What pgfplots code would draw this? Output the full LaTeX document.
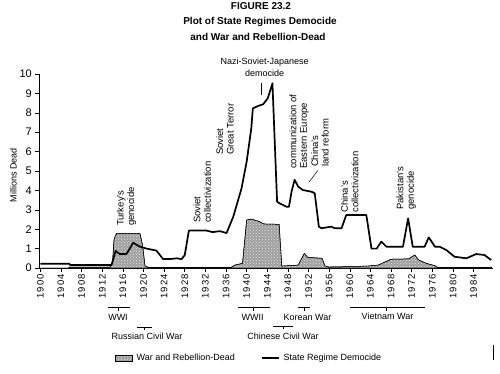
\documentclass[border=0pt]{standalone}
\usepackage{pgfplots}
\pgfplotsset{compat=1.18}
\usetikzlibrary{patterns}
\usepackage{fontspec}
\setmainfont{Liberation Sans}
\newfontfamily\tickfont[LetterSpace=12]{Liberation Sans}
\begin{document}
\begin{tikzpicture}
\useasboundingbox (0,0) rectangle (500pt,373pt);
\begin{axis}[
  at={(39.3pt,105pt)}, anchor=south west,
  scale only axis, width=453.4pt, height=194pt,
  xmin=1899.8, xmax=1987.7, ymin=0, ymax=10,
  axis x line=bottom, axis y line=left,
  axis line style={-, line width=0.8pt},
  clip=false,
  xtick={1900,1904,...,1984}, minor x tick num=3,
  ytick={0,1,...,10},
  tick align=outside, major tick length=4pt, minor tick length=4pt,
  tick style={black, line width=0.6pt},
  /pgf/number format/assume math mode=true,
  /pgf/number format/set thousands separator={},
  x tick label style={font=\tickfont\fontsize{9.5}{10}\selectfont, rotate=90, anchor=east, inner sep=2pt},
  y tick label style={font=\fontsize{11}{12}\selectfont},
  legend columns=2,
  legend style={at={(0.465,-0.464)}, anchor=center, draw=none, fill=none,
    font=\fontsize{9}{10}\selectfont, nodes={inner xsep=4pt},
    /tikz/every even column/.append style={column sep=22pt}},
]
\addplot[draw=black, line width=0.5pt, fill=gray!75,
  postaction={pattern=crosshatch dots, pattern color=white!80!gray}, area legend]
  coordinates {
  (1900,0) (1905.5,0) (1905.6,0.05) (1913.5,0.05) (1914.0,0.3) (1914.3,1.5)
  (1914.8,1.79) (1919.3,1.79) (1919.8,1.2) (1920.3,0.1) (1921,0.03)
  (1937.0,0.03) (1937.7,0.15) (1939.2,0.24) (1940.0,2.47) (1940.9,2.52)
  (1942.5,2.39) (1943.3,2.27) (1946.3,2.25) (1946.8,0.1) (1950.0,0.15)
  (1951.2,0.76) (1951.8,0.55) (1954.6,0.5) (1955.2,0.1) (1956,0.05)
  (1961,0.08) (1963.5,0.1) (1965.5,0.15) (1966.5,0.27) (1968,0.45)
  (1971.4,0.47) (1972.6,0.67) (1973.3,0.42) (1974.8,0.24) (1976.5,0.12)
  (1977,0.03) (1987.5,0.03)
  } \closedcycle;
\addlegendentry{War and Rebellion-Dead}
\addplot[black, line width=1.7pt, line join=round] coordinates {
  (1900,0.22) (1905.6,0.22) (1905.8,0.15) (1913.8,0.15) (1914.6,0.88)
  (1915.4,0.72) (1916.7,0.72) (1918.0,1.3) (1919.3,1.1) (1920.6,1.0)
  (1921.9,0.93) (1922.5,0.9) (1923.8,0.46) (1925.1,0.46) (1926.4,0.5)
  (1927.4,0.46) (1928.0,0.67) (1928.8,1.93) (1932.2,1.93) (1933.4,1.85)
  (1934.8,1.9) (1936.1,1.8) (1937.4,2.64) (1939.0,4.1) (1940.0,5.48)
  (1940.9,7.2) (1941.2,8.23) (1942.2,8.35) (1943.2,8.44) (1944.1,8.75)
  (1945.0,9.52) (1945.9,3.42) (1946.4,3.33) (1947.7,3.16) (1948.2,3.16)
  (1948.7,3.93) (1949.3,4.55) (1950.0,4.19) (1950.9,4.02) (1952.6,3.93)
  (1953.2,3.85) (1954.0,2.13) (1954.5,2.05) (1956.4,2.13) (1957.1,2.05)
  (1958.4,2.05) (1959.3,2.73) (1963.2,2.73) (1964.2,1.0) (1965.2,1.0)
  (1966.1,1.36) (1967.1,1.1) (1970.3,1.1) (1971.3,2.56) (1972.2,1.1)
  (1974.5,1.1) (1975.3,1.58) (1976.5,1.1) (1977.4,1.1) (1978.7,0.93)
  (1980.3,0.58) (1982.6,0.5) (1984.5,0.72) (1986.1,0.67) (1987.4,0.41)
};
\addlegendentry{State Regime Democide}
% annotations
\begin{scope}[every node/.style={font=\fontsize{9.5}{10.5}\selectfont, inner sep=0pt}]
\node[rotate=90, anchor=west, align=left] at (axis cs:1916.7,2.16) {Turkey's\\genocide};
\node[rotate=90, anchor=west, align=left] at (axis cs:1931.4,2.32) {Soviet\\collectivization};
\node[rotate=90, anchor=west, align=left] at (axis cs:1935.8,5.82) {Soviet\\Great Terror};
\node[rotate=90, anchor=west, align=left] at (axis cs:1950.2,5.1) {communization of\\Eastern Europe};
\node[rotate=90, anchor=west, align=left] at (axis cs:1954.2,5.2) {China's\\land reform};
\draw[line width=0.5pt] (axis cs:1952.1,4.43) -- (axis cs:1953.8,5.03);
\node[rotate=90, anchor=west, align=left] at (axis cs:1960.0,2.84) {China's\\collectivization};
\node[rotate=90, anchor=west, align=left] at (axis cs:1970.9,2.99) {Pakistan's\\genocide};
\node[anchor=north, align=center, font=\fontsize{9}{11.5}\selectfont] at (axis cs:1943.5,10.82) {Nazi-Soviet-Japanese\\democide};
\draw[line width=0.7pt] (axis cs:1942.9,9.54) -- (axis cs:1942.9,8.92);
\end{scope}
\end{axis}
% y label
\node[rotate=90, font=\fontsize{9}{10}\selectfont, inner sep=0pt] at (13.5pt,198pt) {Millions Dead};
% title
\node[font=\bfseries\fontsize{10}{12}\selectfont, inner sep=0pt] at (261pt,367pt) {FIGURE 23.2};
\node[font=\bfseries\fontsize{10}{12}\selectfont, inner sep=0pt] at (260pt,351pt) {Plot of State Regimes Democide};
\node[font=\bfseries\fontsize{10}{12}\selectfont, inner sep=0pt] at (258pt,336pt) {and War and Rebellion-Dead};
% period brackets
\begin{scope}[line width=0.6pt, every node/.style={font=\fontsize{9}{10}\selectfont, inner sep=0pt}]
\draw (108.3pt,65.3pt) -- (130pt,65.3pt); \draw (118.3pt,65.3pt) -- (118.3pt,62pt);
\node at (118pt,56pt) {WWI};
\draw (137pt,46pt) -- (152pt,46pt); \draw (144.5pt,46pt) -- (144.5pt,43pt);
\node at (147pt,37pt) {Russian Civil War};
\draw (238.3pt,65.3pt) -- (270pt,65.3pt); \draw (253.3pt,65.3pt) -- (253.3pt,62pt);
\node at (252.5pt,56pt) {WWII};
\draw (298.3pt,65.3pt) -- (310pt,65.3pt); \draw (304pt,65.3pt) -- (304pt,62pt);
\node at (307.5pt,56pt) {Korean War};
\draw (273pt,47pt) -- (293pt,47pt); \draw (283pt,47pt) -- (283pt,44pt);
\node at (283pt,37pt) {Chinese Civil War};
\draw (350pt,65.3pt) -- (425pt,65.3pt); \draw (386.7pt,65.3pt) -- (386.7pt,62pt);
\node at (387.5pt,56.3pt) {Vietnam War};
\end{scope}
\draw[line width=1pt] (493pt,28pt) -- (493pt,13pt);
\end{tikzpicture}
\end{document}
